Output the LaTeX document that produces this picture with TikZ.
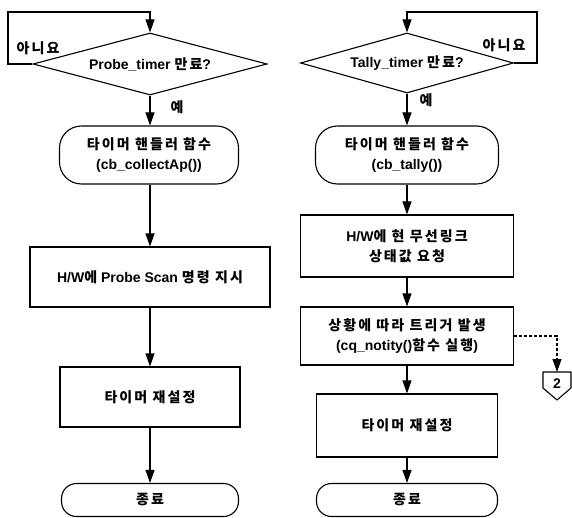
\documentclass[tikz,border=0pt]{standalone}
\usepackage{fontspec}
\setmainfont{Liberation Sans}
\newfontfamily\krfont{Noto Sans CJK KR}[LetterSpace=15]
\newcommand\hg[1]{{\krfont #1}}
\usetikzlibrary{shapes.geometric,arrows.meta}
\begin{document}
\begin{tikzpicture}[x=1pt,y=-1pt,
  txt/.style={font=\bfseries\fontsize{14}{20}\selectfont, align=center},
  box/.style={txt, draw, line width=1.1pt, inner sep=0pt, rectangle},
  term/.style={box, rounded corners=22pt},
  termsm/.style={box, rounded corners=15pt},
  dia/.style={txt, draw, line width=1.1pt, diamond, inner sep=0pt},
  arr/.style={-{Triangle[length=13pt,width=9pt]}, line width=1.1pt},
  lbl/.style={txt}]
\useasboundingbox (0,0) rectangle (572,518);
% left column
\node[dia, aspect=3.77, minimum width=234pt, minimum height=62pt] (dL) at (150,64) {Probe\_timer \hg{만료}?};
\node[term, minimum width=179pt, minimum height=58pt] (tL1) at (149,155) {\hg{타이머 핸들러 함수}\\(cb\_collectAp())};
\node[box, minimum width=240pt, minimum height=60pt] (bL1) at (150,277) {H/W\hg{에} Probe Scan \hg{명령 지시}};
\node[box, minimum width=180pt, minimum height=60pt] (bL2) at (150,397) {\hg{타이머 재설정}};
\node[termsm, minimum width=177pt, minimum height=33pt] (tL2) at (150,500) {\hg{종료}};
\coordinate (loopL) at (8,12);
\node[lbl] (noL) at (38,48) {\hg{아니요}};
\node[lbl] (yesL) at (177,107) {\hg{예}};
\draw[arr] (dL.west) -| (loopL) -| (dL.north);
\draw[arr] (dL.south) -- (tL1.north -| dL.south);
\draw[arr] (tL1.south -| bL1.north) -- (bL1.north);
\draw[arr] (bL1.south) -- (bL2.north);
\draw[arr] (bL2.south) -- (tL2.north);
% right column
\node[dia, aspect=3.55, minimum width=213pt, minimum height=60pt] (dR) at (407,63) {Tally\_timer \hg{만료}?};
\node[term, minimum width=183pt, minimum height=58pt] (tR1) at (407,155) {\hg{타이머 핸들러 함수}\\(cb\_tally())};
\node[box, minimum width=213pt, minimum height=62pt] (bR1) at (407,246) {H/W\hg{에 현 무선링크}\\\hg{상태값 요청}};
\node[box, minimum width=213pt, minimum height=58pt] (bR2) at (407,336) {\hg{상황에 따라 트리거 발생}\\(cq\_notity()\hg{함수 실행})};
\node[box, minimum width=181pt, minimum height=63pt] (bR3) at (407,425.5) {\hg{타이머 재설정}};
\node[termsm, minimum width=181pt, minimum height=33pt] (tR2) at (407,500) {\hg{종료}};
\coordinate (loopR) at (537,12);
\node[lbl] (noR) at (504,45) {\hg{아니요}};
\node[lbl] (yesR) at (426,100) {\hg{예}};
\draw[arr] (dR.east) -| (loopR) -| (dR.north);
\draw[arr] (dR.south) -- (tR1.north);
\draw[arr] (tR1.south) -- (bR1.north);
\draw[arr] (bR1.south) -- (bR2.north);
\draw[arr] (bR2.south) -- (bR3.north);
\draw[arr] (bR3.south) -- (tR2.north);
% off-page connector
\node[txt] (c2) at (557,384) {2};
\coordinate (c2top) at (557,372);
\draw[line width=1.1pt, line join=round] (543,372) -- (571,372) -- (571,388) -- (557,400) -- (543,388) -- cycle;
\draw[arr, dashed, dash pattern=on 3pt off 2pt] (bR2.east) -| (c2top);
\end{tikzpicture}
\end{document}
